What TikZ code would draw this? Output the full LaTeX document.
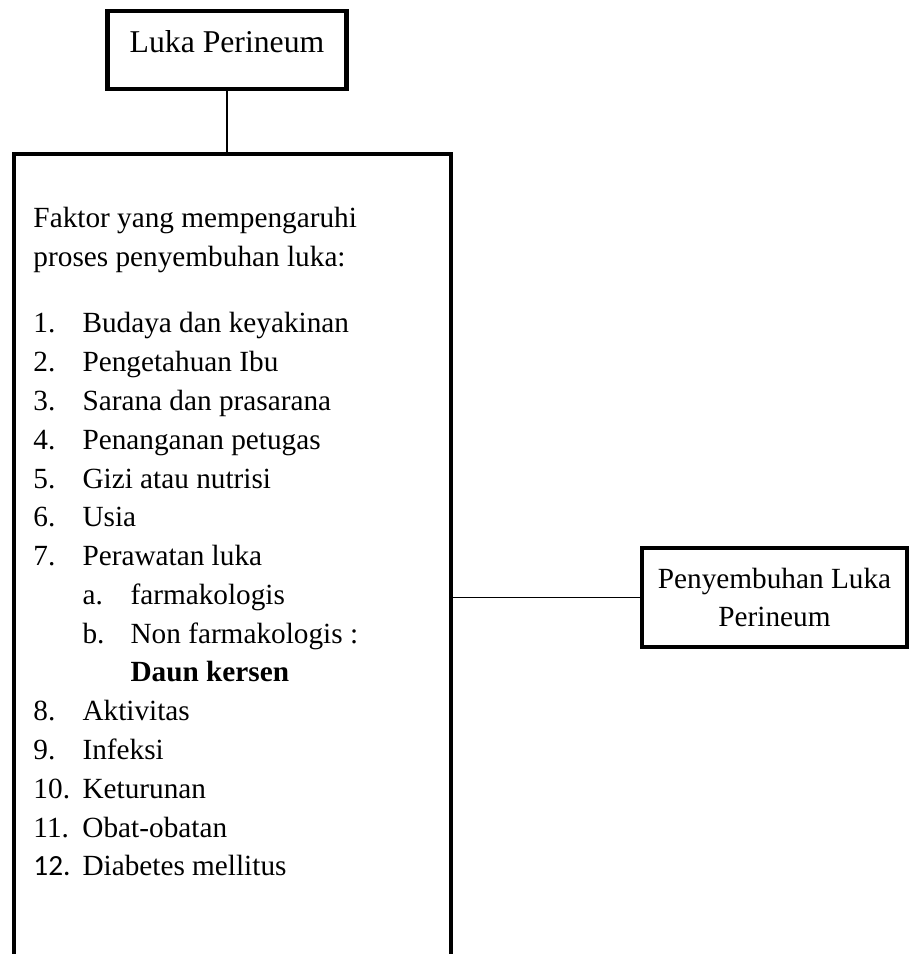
\documentclass[tikz,border=0pt]{standalone}
\usepackage{fontspec}
\setmainfont{Liberation Serif}
\newfontfamily\calibrifont{Carlito}
\usetikzlibrary{positioning}
\newcommand{\pxl}{0.41pt}
\newlength\numcol \setlength\numcol{20.1pt}
\newlength\subcol \setlength\subcol{19.7pt}
\newcommand{\itm}[2]{\makebox[\numcol][l]{#1}#2\\}
\newcommand{\subitm}[2]{\hspace*{\numcol}\makebox[\subcol][l]{#1}#2\\}
\tikzset{
    every node/.style={font=\fontsize{12}{15.9}\selectfont, inner sep=0pt},
    frame/.style={draw, rectangle, line width=1.7pt},
    link/.style={line width=0.8pt}
}

\begin{document}
\begin{tikzpicture}[x=\pxl, y=-\pxl]
  \useasboundingbox (0,0) rectangle (919,954);
  \clip (0,0) rectangle (919,954);

  \node (luka) [frame, minimum width=239*\pxl, minimum height=78*\pxl,
    font=\fontsize{13}{16}\selectfont, text height=0.7em, text depth=0.5em]
    at (227,50) {Luka Perineum};
  \node (faktor) [frame, anchor=north west, minimum width=437*\pxl,
    minimum height=900*\pxl] at (12,152) {};
  \node (heal) [frame, align=center, minimum width=265*\pxl,
    minimum height=99*\pxl] at (774.5,597.5) {Penyembuhan Luka\\Perineum};

  \node (daftar) [anchor=north west, align=left] at (33,207) {%
    Faktor yang mempengaruhi\\
    proses penyembuhan luka:\\[11.3pt]
    \itm{1.}{Budaya dan keyakinan}
    \itm{2.}{Pengetahuan Ibu}
    \itm{3.}{Sarana dan prasarana}
    \itm{4.}{Penanganan petugas}
    \itm{5.}{Gizi atau nutrisi}
    \itm{6.}{Usia}
    \itm{7.}{Perawatan luka}
    \subitm{a.}{farmakologis}
    \subitm{b.}{Non farmakologis :}
    \hspace*{\numcol}\hspace*{\subcol}\textbf{Daun kersen}\\
    \itm{8.}{Aktivitas}
    \itm{9.}{Infeksi}
    \itm{10.}{Keturunan}
    \itm{11.}{Obat-obatan}
    \makebox[\numcol][l]{\calibrifont 12.}Diabetes mellitus};

  \draw[link] (luka.south) -- (luka.south |- faktor.north);
  \draw[link] (faktor.east |- heal.west) -- (heal.west);

\end{tikzpicture}
\end{document}
